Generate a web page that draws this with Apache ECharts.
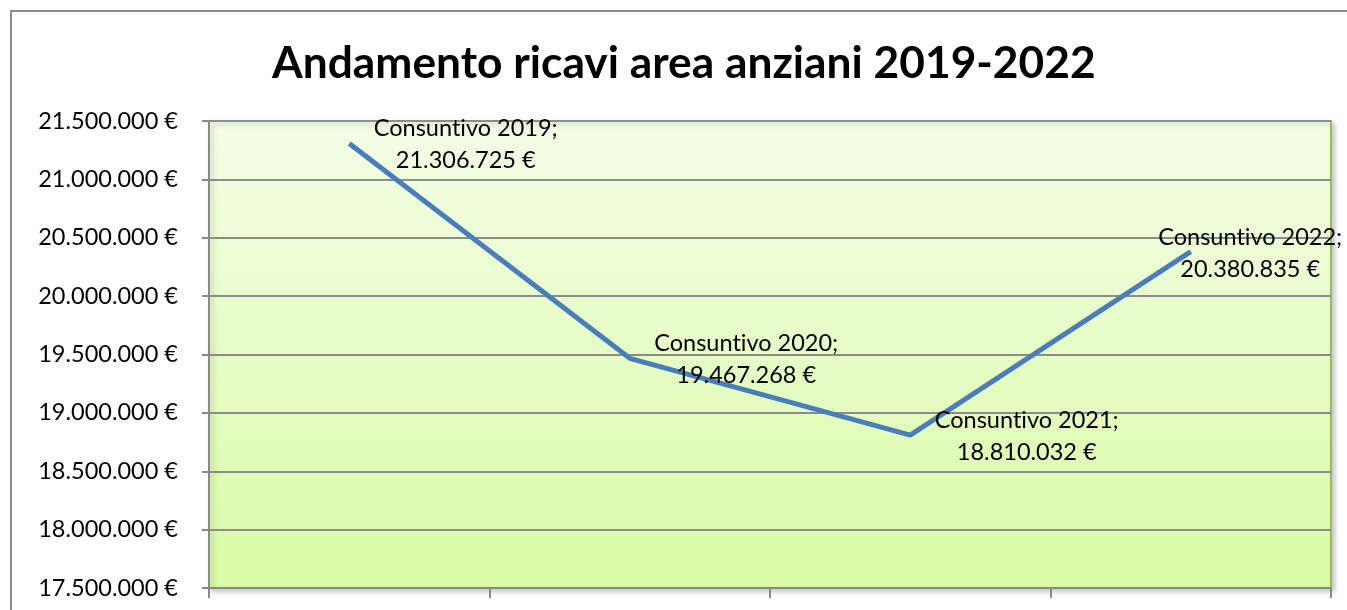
<!DOCTYPE html>
<html>
  <head>
    <meta charset="utf-8">
    <title>Andamento ricavi area anziani</title>
    <script src="https://cdn.jsdelivr.net/npm/echarts@6/dist/echarts.min.js"></script>
    <style>
      body { margin: 0; background: #fff; }
    </style>
  </head>
  <body>
    <div id="main" style="width:1347px;height:610px;"></div>
    <script>
// dati
var categorie = ['Consuntivo 2019', 'Consuntivo 2020', 'Consuntivo 2021', 'Consuntivo 2022'];
var ricavi = [21306725, 19467268, 18810032, 20380835];
var assey = { min: 17500000, max: 21500000, passo: 500000 };

function euro(v) {
    return String(Math.round(v)).replace(/\B(?=(\d{3})+(?!\d))/g, '.') + ' €';
}

var font = 'Lato';
var myChart = echarts.init(document.getElementById('main'));

var punti = ricavi.map(function (v, i) {
    var p = { value: v };
    if (i === ricavi.length - 1) {
        p.label = { offset: [-57, 2] };
    }
    return p;
});

myChart.setOption({
    animation: false,
    title: {
        text: 'Andamento ricavi area anziani 2019-2022',
        left: 267,
        top: 37,
        textStyle: { fontFamily: font, fontWeight: 'bold', fontSize: 44.3, color: '#000' }
    },
    graphic: [{
        type: 'rect',
        shape: { x: 11, y: 11, width: 1400, height: 700 },
        style: { fill: 'none', stroke: '#8c8c8c', lineWidth: 2 },
        silent: true
    }],
    grid: {
        left: 209, top: 121, right: 16, bottom: 22,
        show: true,
        backgroundColor: new echarts.graphic.LinearGradient(0, 0, 0, 1, [
            { offset: 0, color: '#f3fde6' },
            { offset: 1, color: '#d9fba5' }
        ]),
        borderColor: '#9bbb59',
        borderWidth: 2,
        shadowColor: 'rgba(0,0,0,0.2)',
        shadowBlur: 5,
        shadowOffsetX: 3,
        shadowOffsetY: 3
    },
    xAxis: {
        type: 'category',
        data: categorie,
        boundaryGap: true,
        axisLine: { lineStyle: { color: '#898989', width: 2 } },
        axisTick: { show: true, length: 10, lineStyle: { color: '#898989', width: 2 } },
        axisLabel: { show: false },
        splitLine: { show: false }
    },
    yAxis: {
        type: 'value',
        min: assey.min,
        max: assey.max,
        interval: assey.passo,
        axisLine: { show: true, lineStyle: { color: '#898989', width: 2 } },
        axisTick: { show: true, length: 7, lineStyle: { color: '#898989', width: 2 } },
        axisLabel: {
            margin: 31,
            fontFamily: font,
            fontSize: 23.5,
            color: '#000',
            formatter: euro
        },
        splitLine: { lineStyle: { color: '#8c8c8c', width: 2 } }
    },
    series: [{
        name: 'Ricavi',
        type: 'line',
        data: punti,
        symbol: 'circle',
        symbolSize: 1,
        itemStyle: { color: 'rgba(0,0,0,0)' },
        lineStyle: { color: '#4a7ebb', width: 5 },
        label: {
            show: true,
            position: 'right',
            distance: 24,
            offset: [0, 1],
            color: '#000',
            align: 'left',
            formatter: function (p) {
                // \u200C evita la legatura "ti" di Lato
                var nome = p.name.replace('ti', 't\u200Ci');
                return '{a|' + nome + ';}\n{b|' + euro(p.value) + '}';
            },
            rich: {
                a: { fontFamily: font, fontSize: 23.5, lineHeight: 32, align: 'center', color: '#000' },
                b: { fontFamily: font, fontSize: 23.5, lineHeight: 32, align: 'center', color: '#000' }
            }
        }
    }]
});
    </script>
  </body>
</html>
